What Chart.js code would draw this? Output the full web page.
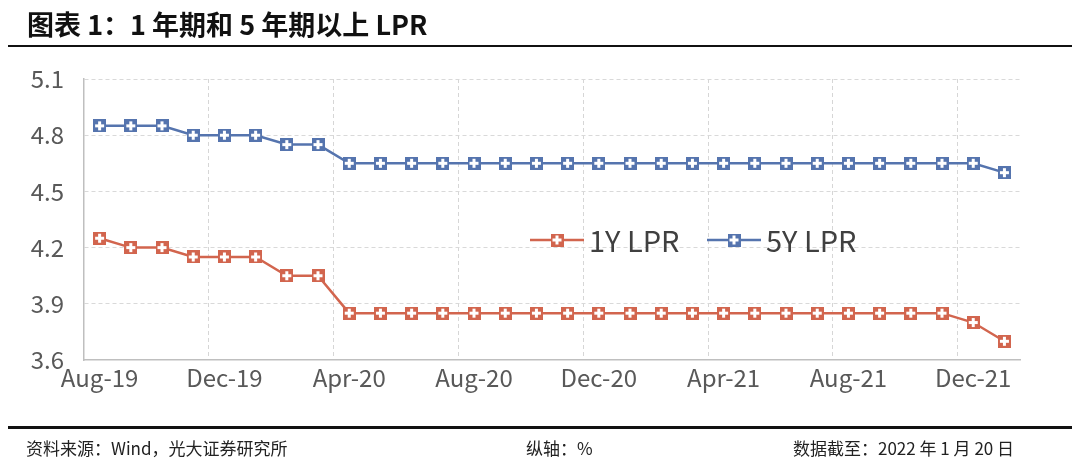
<!DOCTYPE html>
<html>
<head>
<meta charset="utf-8">
<script src="https://cdn.jsdelivr.net/npm/chart.js@4/dist/chart.umd.min.js"></script>
<style>
  html, body { margin: 0; padding: 0; background: #fff; }
  body { width: 1080px; height: 466px; position: relative; overflow: hidden;
         font-family: "Noto Sans CJK SC", "Noto Sans", sans-serif; }
  #title { position: absolute; left: 27px; top: 4px; font-size: 27px; font-weight: bold; color: #111; white-space: nowrap; }
  .rule { position: absolute; left: 8px; width: 1064px; background: #111; }
  #rule-top { top: 45px; height: 2px; }
  #rule-bottom { top: 426px; height: 3px; }
  .foot { position: absolute; top: 435px; font-size: 17px; color: #222; white-space: nowrap; }
  #chart-wrap { position: absolute; left: 0; top: 0; width: 1080px; height: 466px; }
</style>
</head>
<body>
<div id="chart-wrap"><canvas id="chart"></canvas></div>
<div id="title">图表 1：1 年期和 5 年期以上 LPR</div>
<div class="rule" id="rule-top"></div>
<div class="rule" id="rule-bottom"></div>
<div class="foot" style="left:26px">资料来源：Wind，光大证券研究所</div>
<div class="foot" style="left:526px">纵轴：%</div>
<div class="foot" style="left:793px">数据截至：2022 年 1 月 20 日</div>

<script>
// ── data
const months = [
  'Aug-19','Sep-19','Oct-19','Nov-19','Dec-19','Jan-20','Feb-20','Mar-20',
  'Apr-20','May-20','Jun-20','Jul-20','Aug-20','Sep-20','Oct-20','Nov-20',
  'Dec-20','Jan-21','Feb-21','Mar-21','Apr-21','May-21','Jun-21','Jul-21',
  'Aug-21','Sep-21','Oct-21','Nov-21','Dec-21','Jan-22'
];
const lpr1y = [
  4.25, 4.20, 4.20, 4.15, 4.15, 4.15, 4.05, 4.05,
  3.85, 3.85, 3.85, 3.85, 3.85, 3.85, 3.85, 3.85,
  3.85, 3.85, 3.85, 3.85, 3.85, 3.85, 3.85, 3.85,
  3.85, 3.85, 3.85, 3.85, 3.80, 3.70
];
const lpr5y = [
  4.85, 4.85, 4.85, 4.80, 4.80, 4.80, 4.75, 4.75,
  4.65, 4.65, 4.65, 4.65, 4.65, 4.65, 4.65, 4.65,
  4.65, 4.65, 4.65, 4.65, 4.65, 4.65, 4.65, 4.65,
  4.65, 4.65, 4.65, 4.65, 4.65, 4.60
];
const seriesNames = ['1Y LPR', '5Y LPR'];
const yTicks = [3.6, 3.9, 4.2, 4.5, 4.8, 5.1];

const RED = '#D2654E';
const BLUE = '#5574AE';
const FONT = '"Noto Sans CJK SC", "Noto Sans", sans-serif';

// square marker with a white plus inside
function makeMarker(color) {
  const c = document.createElement('canvas');
  c.width = 13; c.height = 13;
  const g = c.getContext('2d');
  g.fillStyle = color;
  g.fillRect(0, 0, 13, 13);
  g.fillStyle = '#fff';
  g.fillRect(5, 2, 3, 9);
  g.fillRect(2, 5, 9, 3);
  return c;
}
const markers = [makeMarker(RED), makeMarker(BLUE)];

// legend drawn by hand so the line sample shows through the marker
const legendPlugin = {
  id: 'lineLegend',
  afterDatasetsDraw(chart) {
    const ctx = chart.ctx;
    const y = 240;
    const items = [
      { x: 530, color: RED, marker: markers[0], text: seriesNames[0] },
      { x: 707, color: BLUE, marker: markers[1], text: seriesNames[1] }
    ];
    ctx.save();
    items.forEach(it => {
      ctx.strokeStyle = it.color;
      ctx.lineWidth = 2.5;
      ctx.beginPath();
      ctx.moveTo(it.x, y);
      ctx.lineTo(it.x + 54, y);
      ctx.stroke();
      ctx.drawImage(it.marker, it.x + 27 - 6.5, y - 6.5);
      ctx.fillStyle = '#404040';
      ctx.font = '29px ' + FONT;
      ctx.textBaseline = 'middle';
      ctx.fillText(it.text, it.x + 59, y + 1);
    });
    ctx.restore();
  }
};

new Chart(document.getElementById('chart'), {
  type: 'line',
  data: {
    labels: months,
    datasets: [
      { label: seriesNames[0], data: lpr1y, borderColor: RED, borderWidth: 2.5,
        pointStyle: markers[0], pointRadius: 6, tension: 0 },
      { label: seriesNames[1], data: lpr5y, borderColor: BLUE, borderWidth: 2.5,
        pointStyle: markers[1], pointRadius: 6, tension: 0 }
    ]
  },
  options: {
    responsive: true,
    maintainAspectRatio: false,
    animation: false,
    layout: { padding: { left: 0, top: 79, right: 60, bottom: 66 } },
    plugins: { legend: { display: false }, tooltip: { enabled: false } },
    scales: {
      x: {
        offset: true,
        grid: {
          offset: true,
          drawTicks: false,
          lineWidth: 1,
          color: c => (c.index > 0 && c.index % 4 === 0) ? '#D6D6D6' : 'rgba(0,0,0,0)'
        },
        border: { display: true, color: '#BFBFBF', width: 1.5, dash: [4, 3] },
        ticks: {
          autoSkip: false,
          maxRotation: 0,
          padding: 3,
          color: '#595959',
          font: { family: FONT, size: 24 },
          callback: (v, i) => i % 4 === 0 ? months[i] : ''
        },
        afterFit: s => { s.height = 40; }
      },
      y: {
        min: yTicks[0],
        max: yTicks[yTicks.length - 1],
        afterBuildTicks: s => { s.ticks = yTicks.map(v => ({ value: v })); },
        grid: {
          drawTicks: false,
          color: c => c.index === 0 ? 'rgba(0,0,0,0)' : '#D9D9D9'
        },
        border: { display: true, color: '#BFBFBF', width: 1.5, dash: [4, 3] },
        ticks: {
          padding: 20,
          color: '#595959',
          font: { family: FONT, size: 24 },
          callback: v => Number(v).toFixed(1)
        },
        afterFit: s => { s.width = 84; }
      }
    }
  },
  plugins: [legendPlugin]
});
</script>
</body>
</html>
